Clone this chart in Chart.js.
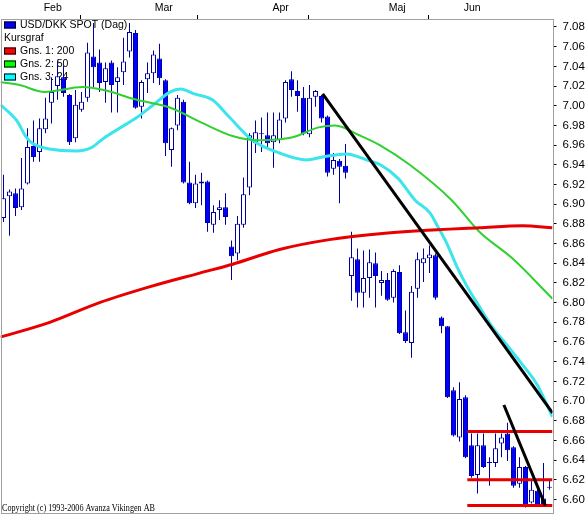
<!DOCTYPE html>
<html>
<head>
<meta charset="utf-8">
<script src="https://cdn.jsdelivr.net/npm/chart.js@4.4.1/dist/chart.umd.min.js"></script>
<style>
  html, body { margin: 0; padding: 0; background: #fff; }
  canvas { display: block; }
</style>
</head>
<body>
<canvas id="myChart" width="588" height="515"></canvas>
<script>
// USD/DKK spot, daily candles Feb - Jun 2006
const opens = [6.886, 6.908, 6.911, 6.897, 6.921, 6.959, 6.953, 6.976, 7.003, 7.020,
  7.029, 7.011, 6.967, 6.996, 7.008, 7.050, 7.044, 7.024, 7.044, 7.024,
  7.034, 7.055, 7.074, 6.999, 7.027, 7.033, 7.048, 7.026, 6.955, 6.980,
  7.004, 6.922, 6.901, 6.921, 6.923, 6.879, 6.894, 6.897, 6.857, 6.850,
  6.879, 6.917, 6.962, 6.971, 6.970, 6.963, 6.965, 6.987, 7.027, 7.015,
  7.008, 6.971, 7.009, 7.010, 6.989, 6.936, 6.944, 6.939, 6.827, 6.844,
  6.810, 6.825, 6.840, 6.820, 6.823, 6.805, 6.831, 6.770, 6.759, 6.814,
  6.840, 6.845, 6.848, 6.785, 6.776, 6.711, 6.663, 6.704, 6.655, 6.625,
  6.655, 6.638, 6.637, 6.657, 6.667, 6.653, 6.616, 6.633, 6.597, 6.609,
  6.601, 6.612];
const highs = [6.930, 6.915, 6.916, 6.947, 6.977, 6.985, 6.987, 7.008, 7.029, 7.046,
  7.041, 7.012, 7.016, 7.014, 7.064, 7.084, 7.057, 7.044, 7.046, 7.039,
  7.069, 7.084, 7.077, 7.026, 7.044, 7.056, 7.063, 7.027, 6.978, 7.011,
  7.006, 6.943, 6.930, 6.932, 6.924, 6.899, 6.904, 6.911, 6.863, 6.888,
  6.927, 6.972, 6.985, 6.988, 6.993, 6.993, 6.993, 7.026, 7.035, 7.026,
  7.019, 7.021, 7.016, 7.011, 6.990, 6.952, 6.946, 6.961, 6.872, 6.855,
  6.853, 6.854, 6.851, 6.832, 6.830, 6.834, 6.838, 6.792, 6.817, 6.851,
  6.855, 6.858, 6.850, 6.786, 6.776, 6.714, 6.719, 6.706, 6.667, 6.667,
  6.667, 6.643, 6.667, 6.667, 6.678, 6.654, 6.643, 6.634, 6.619, 6.616,
  6.637, 6.620];
const lows = [6.882, 6.868, 6.888, 6.894, 6.920, 6.943, 6.943, 6.972, 6.982, 7.006,
  7.009, 6.960, 6.963, 6.994, 7.004, 7.019, 7.014, 7.003, 6.993, 6.993,
  7.021, 7.049, 6.997, 6.987, 7.013, 7.023, 7.021, 6.949, 6.938, 6.975,
  6.921, 6.900, 6.896, 6.899, 6.872, 6.871, 6.884, 6.879, 6.823, 6.843,
  6.876, 6.909, 6.952, 6.953, 6.958, 6.937, 6.962, 6.983, 7.009, 6.994,
  6.970, 6.968, 6.999, 6.983, 6.928, 6.930, 6.901, 6.926, 6.802, 6.795,
  6.795, 6.805, 6.795, 6.807, 6.802, 6.800, 6.768, 6.759, 6.744, 6.805,
  6.821, 6.830, 6.803, 6.769, 6.703, 6.664, 6.659, 6.642, 6.622, 6.606,
  6.632, 6.614, 6.633, 6.643, 6.639, 6.612, 6.612, 6.592, 6.596, 6.593,
  6.593, 6.610];
const closes = [6.906, 6.913, 6.896, 6.916, 6.958, 6.948, 6.977, 6.987, 7.014, 7.030,
  7.013, 6.963, 7.001, 7.004, 7.054, 7.039, 7.023, 7.038, 7.021, 7.029,
  7.045, 7.075, 6.998, 7.024, 7.033, 7.052, 7.028, 6.962, 6.977, 7.008,
  6.922, 6.901, 6.921, 6.923, 6.881, 6.892, 6.897, 6.887, 6.847, 6.880,
  6.910, 6.970, 6.973, 6.972, 6.962, 6.970, 6.986, 7.024, 7.016, 7.010,
  6.972, 7.008, 7.015, 6.987, 6.932, 6.945, 6.938, 6.932, 6.846, 6.810,
  6.825, 6.841, 6.827, 6.823, 6.803, 6.832, 6.769, 6.761, 6.811, 6.844,
  6.845, 6.849, 6.805, 6.776, 6.704, 6.665, 6.702, 6.643, 6.624, 6.655,
  6.633, 6.637, 6.652, 6.663, 6.650, 6.614, 6.633, 6.593, 6.610, 6.594,
  6.594, 6.613];

// moving averages (position in trading days, value)
const ma200Pos = [-0.5, 7.7, 16, 24.3, 32.7, 38.2, 46, 54.3, 62.7, 69.3, 79.3, 86.5, 91.5];
const ma200Val = [6.765, 6.780, 6.800, 6.816, 6.830, 6.839, 6.854, 6.864, 6.870, 6.873, 6.876, 6.878, 6.876];
const ma50Pos = [-0.5, 2.7, 6.8, 13.2, 16.7, 22.2, 27.8, 33.3, 38.3, 42.5, 48.2, 52.5, 55.3, 59.3, 62.7, 67.7, 74.7, 79.3, 84.8, 91.5];
const ma50Val = [7.024, 7.021, 7.014, 7.019, 7.016, 7.006, 6.998, 6.982, 6.969, 6.965, 6.968, 6.978, 6.980, 6.970, 6.960, 6.940, 6.904, 6.872, 6.845, 6.804];
const ma24Pos = [-0.5, 2.2, 3.8, 4.8, 7.7, 12.2, 14.8, 16.7, 19.3, 22.2, 25, 27.8, 29.5, 31.8, 34.8, 37.7, 41.5, 46, 50.5,
  53.2, 57.2, 60.5, 62.8, 65.8, 68.6, 71.1, 72.4, 73.9, 75.6, 77.3, 78.9, 81.6, 83.9, 86.1, 88.9, 91.5];
const ma24Val = [7.001, 6.985, 6.968, 6.962, 6.956, 6.954, 6.958, 6.967, 6.977, 6.988, 7.001, 7.014, 7.017, 7.012, 7.006, 6.988, 6.965, 6.952, 6.945,
  6.948, 6.951, 6.945, 6.940, 6.926, 6.904, 6.891, 6.877, 6.860, 6.836, 6.816, 6.800, 6.774, 6.757, 6.740, 6.717, 6.684];

// hand drawn trend lines and support levels
const trend1Pos = [53.2, 91.5], trend1Val = [7.012, 6.688];
const trend2Pos = [83.4, 90.3], trend2Val = [6.696, 6.594];
const levelFrom = 77.3, levelTo = 91.5;
const levels = [6.669, 6.620, 6.594];

const priceTicks = [6.60, 6.62, 6.64, 6.66, 6.68, 6.70, 6.72, 6.74, 6.76, 6.78, 6.80, 6.82, 6.84,
  6.86, 6.88, 6.90, 6.92, 6.94, 6.96, 6.98, 7.00, 7.02, 7.04, 7.06, 7.08];
const monthNames = ['Feb', 'Mar', 'Apr', 'Maj', 'Jun'];
const monthNamePos = [8.2, 26.7, 46.2, 65.6, 78.1];
const monthEdgePos = [17.3, 37.8, 55.6, 75.9];

const legendNames = ['USD/DKK SPOT (Dag)', 'Kursgraf', 'Gns. 1: 200', 'Gns. 2: 50', 'Gns. 3: 24'];
const legendColors = ['#0000ff', null, '#ff0000', '#00ff00', '#00ffff'];

const BLUE = '#0000ff';
const NAVY = '#0000a0';
const RED = '#e80000';
const GREEN = '#30d030';
const CYAN = '#3ce4ec';

const pts = (xs, ys) => xs.map((x, i) => ({x: x, y: ys[i]}));

const lineDs = (data, color, width, order) => ({
  type: 'line',
  data: data,
  borderColor: color,
  borderWidth: width,
  pointRadius: 0,
  cubicInterpolationMode: 'monotone',
  order: order,
});

const datasets = [
  {
    label: 'wicks',
    data: lows.map((l, i) => ({x: i, y: [l, highs[i]]})),
    backgroundColor: NAVY,
    barThickness: 1,
    inflateAmount: 0,
    grouped: false,
    order: 5,
  },
  {
    label: 'bodies',
    data: opens.map((o, i) => ({x: i, y: [o, closes[i]]})),
    backgroundColor: opens.map((o, i) => closes[i] < o ? BLUE : '#ffffff'),
    borderColor: NAVY,
    borderWidth: 1,
    borderSkipped: false,
    barThickness: 5,
    inflateAmount: 0,
    grouped: false,
    order: 4,
  },
  lineDs(pts(ma200Pos, ma200Val), RED, 3, 3),
  lineDs(pts(ma50Pos, ma50Val), GREEN, 2, 3),
  lineDs(pts(ma24Pos, ma24Val), CYAN, 3, 3),
  lineDs(pts(trend1Pos, trend1Val), '#000', 3, 1),
  lineDs(pts(trend2Pos, trend2Val), '#000', 3, 1),
];
levels.forEach(v => datasets.push(lineDs([{x: levelFrom, y: v}, {x: levelTo, y: v}], RED, 3, 2)));

// legend sits inside the plot, under the candles
const inlineLegend = {
  id: 'inlineLegend',
  beforeDatasetsDraw(chart) {
    const ctx = chart.ctx;
    ctx.save();
    ctx.font = '10.5px "Liberation Sans", Arial, sans-serif';
    ctx.textBaseline = 'middle';
    ctx.fillStyle = '#000';
    legendNames.forEach((name, k) => {
      const cy = 25 + k * 13;
      if (legendColors[k]) {
        ctx.fillStyle = legendColors[k];
        ctx.fillRect(4, cy - 3.5, 12, 7);
        ctx.strokeStyle = '#000';
        ctx.lineWidth = 1;
        ctx.strokeRect(4.5, cy - 3, 11, 6);
        ctx.fillStyle = '#000';
        ctx.fillText(name, 20, cy);
      } else {
        ctx.fillText(name, 4, cy);
      }
    });
    ctx.font = '10px "Liberation Serif", "Times New Roman", serif';
    ctx.textBaseline = 'alphabetic';
    ctx.fillText('Copyright (c) 1993-2006 Avanza Vikingen AB', 2, 511, 153);
    ctx.restore();
  },
  afterDraw(chart) {
    const {ctx, chartArea: a} = chart;
    ctx.save();
    ctx.strokeStyle = '#a0a0a0';
    ctx.lineWidth = 1;
    ctx.strokeRect(Math.round(a.left) + 0.5, a.top + 0.5, Math.round(a.right) - Math.round(a.left), a.bottom - a.top);
    ctx.restore();
  }
};

const config = {
  type: 'bar',
  data: {datasets: datasets},
  options: {
    responsive: false,
    animation: false,
    events: [],
    layout: {padding: {left: 0.5, right: 0, top: 0, bottom: 2}},
    plugins: {
      legend: {display: false},
      tooltip: {enabled: false},
    },
    scales: {
      x: {
        type: 'linear',
        position: 'top',
        min: -0.5,
        max: 91.5,
        offset: false,
        afterBuildTicks: (axis) => {
          axis.ticks = monthEdgePos.concat(monthNamePos).sort((a, b) => a - b).map(v => ({value: v}));
        },
        afterFit: (axis) => {
          axis.height = 19;
          axis.paddingLeft = 0;
          axis.paddingRight = 0;
        },
        grid: {
          drawOnChartArea: false,
          tickLength: 4,
          tickColor: (ctx) => ctx.tick && monthEdgePos.includes(ctx.tick.value) ? '#000' : 'rgba(0,0,0,0)',
        },
        border: {display: false},
        ticks: {
          autoSkip: false,
          maxRotation: 0,
          padding: 1,
          color: '#000',
          font: {family: '"Liberation Sans", Arial, sans-serif', size: 10.5},
          callback: (value) => {
            const k = monthNamePos.indexOf(value);
            return k >= 0 ? monthNames[k] : '';
          },
        },
      },
      y: {
        type: 'linear',
        position: 'right',
        min: 6.5863,
        max: 7.0881,
        afterBuildTicks: (axis) => { axis.ticks = priceTicks.map(v => ({value: v})); },
        afterFit: (axis) => {
          axis.width = 35.5;
          axis.paddingTop = 0;
          axis.paddingBottom = 0;
        },
        grid: {drawOnChartArea: false, tickLength: 4, tickColor: '#000'},
        border: {display: false},
        ticks: {
          padding: 6,
          color: '#000',
          font: {family: '"Liberation Sans", Arial, sans-serif', size: 11.5},
          callback: (v) => v.toFixed(2),
        },
      },
    },
  },
  plugins: [inlineLegend],
};

const myChart = new Chart(document.getElementById('myChart').getContext('2d'), config);
</script>
</body>
</html>
